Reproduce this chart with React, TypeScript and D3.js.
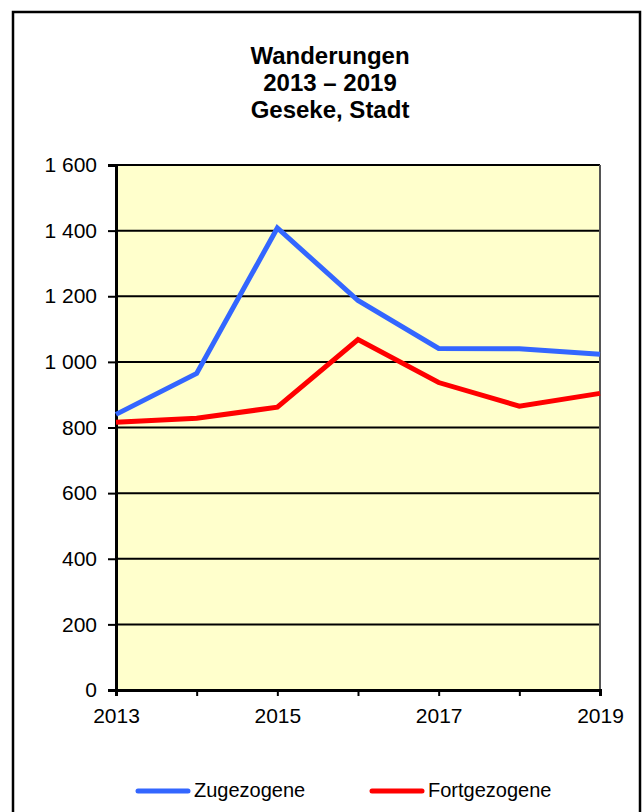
import React, { useEffect, useRef } from 'react';
import * as d3 from 'd3';

const years = [2013, 2014, 2015, 2016, 2017, 2018, 2019];
const zugezogene = [840, 965, 1408, 1187, 1041, 1040, 1023];
const fortgezogene = [816, 828, 862, 1068, 937, 865, 904];
const yTicks = [0, 200, 400, 600, 800, 1000, 1200, 1400, 1600];
const xLabels = [2013, 2015, 2017, 2019];
const titleLines = ['Wanderungen', '2013 – 2019', 'Geseke, Stadt'];
const seriesNames = ['Zugezogene', 'Fortgezogene'];
const seriesColors = ['#3366ff', '#ff0000'];

export default function App() {
  const svgRef = useRef<SVGSVGElement>(null);

  useEffect(() => {
    if (!svgRef.current) return;
    const width = 644, height = 812;
    const margin = { top: 165, right: 44, bottom: 122, left: 116 };
    const font = 'Arial, "Liberation Sans", sans-serif';

    const svg = d3.select(svgRef.current);
    svg.selectAll('*').remove();

    // outer frame (bottom edge falls outside the picture)
    svg.append('rect')
      .attr('x', 13).attr('y', 12)
      .attr('width', 627).attr('height', 840)
      .attr('fill', '#fff')
      .attr('stroke', '#000')
      .attr('stroke-width', 2.5);

    const x = d3.scaleLinear().domain([2013, 2019]).range([margin.left, width - margin.right]);
    const y = d3.scaleLinear().domain([0, 1600]).range([height - margin.bottom, margin.top]);
    const fmt = d3.format(',d');

    // title
    svg.append('g').selectAll('text')
      .data(titleLines)
      .enter().append('text')
      .attr('x', 330)
      .attr('y', (d, i) => 64 + i * 27)
      .attr('text-anchor', 'middle')
      .style('font-family', font)
      .style('font-weight', 'bold')
      .style('font-size', '24px')
      .text(d => d);

    // plot background
    svg.append('rect')
      .attr('x', x(2013)).attr('y', y(1600))
      .attr('width', x(2019) - x(2013))
      .attr('height', y(0) - y(1600))
      .attr('fill', '#ffffcc');

    // gridlines
    svg.append('g').selectAll('line')
      .data(yTicks)
      .enter().append('line')
      .attr('x1', x(2013)).attr('x2', x(2019))
      .attr('y1', d => y(d)).attr('y2', d => y(d))
      .attr('stroke', '#000')
      .attr('stroke-width', 2);

    // right border
    svg.append('line')
      .attr('x1', x(2019)).attr('x2', x(2019))
      .attr('y1', y(1600)).attr('y2', y(0))
      .attr('stroke', '#555').attr('stroke-width', 2);

    // y axis
    const yAxis = svg.append('g')
      .attr('transform', `translate(${x(2013)},0)`)
      .call(d3.axisLeft(y).tickValues(yTicks).tickSize(8).tickPadding(11)
        .tickFormat(d => fmt(+d).replace(',', ' ')));
    yAxis.select('.domain').attr('stroke', '#000').attr('stroke-width', 3);
    yAxis.selectAll('.tick line').attr('stroke', '#000').attr('stroke-width', 2);
    yAxis.selectAll('.tick text')
      .style('font-family', font).style('font-size', '21px').attr('fill', '#000');

    // x axis
    const xAxis = svg.append('g')
      .attr('transform', `translate(0,${y(0)})`)
      .call(d3.axisBottom(x).tickValues(years).tickSize(6).tickPadding(12)
        .tickFormat(d => (xLabels.includes(+d) ? String(d) : '')));
    xAxis.select('.domain').attr('stroke', '#000').attr('stroke-width', 3);
    xAxis.selectAll('.tick line').attr('stroke', '#000').attr('stroke-width', 2);
    xAxis.selectAll('.tick text')
      .style('font-family', font).style('font-size', '21px').attr('fill', '#000');

    // series lines
    const line = d3.line<number>()
      .x((d, i) => x(years[i]))
      .y(d => y(d));

    [zugezogene, fortgezogene].forEach((vals, k) => {
      svg.append('path')
        .datum(vals)
        .attr('d', line)
        .attr('fill', 'none')
        .attr('stroke', seriesColors[k])
        .attr('stroke-width', 5)
        .attr('stroke-linejoin', 'miter');
    });

    // legend
    const legendX = [135, 369];
    const legend = svg.append('g').selectAll('g')
      .data(seriesNames)
      .enter().append('g')
      .attr('transform', (d, i) => `translate(${legendX[i]},791)`);
    legend.append('line')
      .attr('x1', 3).attr('x2', 53)
      .attr('stroke', (d, i) => seriesColors[i])
      .attr('stroke-width', 5)
      .attr('stroke-linecap', 'round');
    legend.append('text')
      .attr('x', 59).attr('y', 6)
      .style('font-family', font).style('font-size', '20px')
      .text(d => d);
  }, []);

  return (
    <svg ref={svgRef} width={644} height={812}
      style={{ position: 'absolute', left: 0, top: 0, background: '#fff' }} />
  );
}
